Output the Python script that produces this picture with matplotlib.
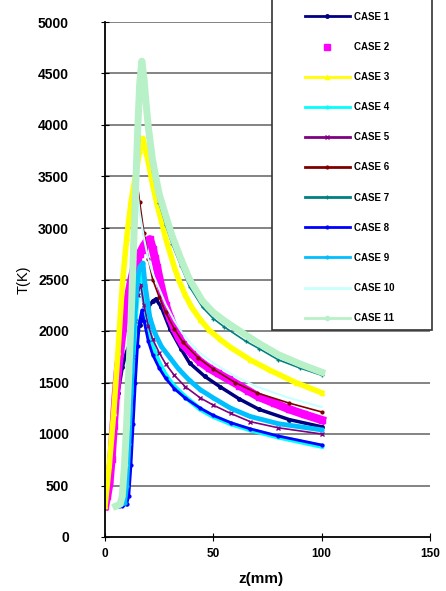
import matplotlib
matplotlib.use("Agg")
import matplotlib.pyplot as plt
from matplotlib.patches import Rectangle

plt.rcParams['font.family'] = ['Liberation Sans', 'DejaVu Sans']

# temperature profiles T(K) vs z(mm)
case1_z = [0, 2, 4, 6, 8, 10, 12, 14, 16, 18, 20, 22, 23.5, 26, 30, 35, 39, 46, 53, 62, 71, 85, 100]
case1_t = [300, 620, 1000, 1400, 1650, 1800, 1900, 1980, 2060, 2150, 2230, 2290, 2310, 2230, 2020, 1830, 1690, 1560, 1460, 1340, 1240, 1140, 1070]

case2_z = [0, 1, 2, 3, 4, 5, 6, 7, 8, 9, 10, 11, 12, 13, 14, 15, 16, 17, 18, 19, 20, 20.7, 22, 23, 24, 26, 28, 30, 32, 34, 36, 40, 44, 48, 52, 57, 62, 66, 71, 78, 85, 92, 100]
case2_t = [300, 400, 520, 760, 1080, 1380, 1620, 1800, 1980, 2120, 2250, 2370, 2480, 2570, 2650, 2700, 2750, 2790, 2830, 2860, 2880, 2890, 2800, 2710, 2620, 2420, 2250, 2130, 2030, 1940, 1870, 1780, 1700, 1640, 1590, 1530, 1470, 1420, 1360, 1300, 1240, 1190, 1136]

case3_z = [0, 2, 4, 6, 8, 10, 12, 14, 16, 17.5, 20, 22, 24, 26, 28, 30, 32, 34, 37, 40, 44, 48, 53, 58, 67, 76, 88, 100]
case3_t = [300, 700, 1200, 1800, 2450, 2900, 3250, 3500, 3750, 3870, 3640, 3420, 3230, 3070, 2900, 2760, 2620, 2500, 2350, 2230, 2110, 2010, 1920, 1840, 1720, 1620, 1500, 1400]

case4_z = [6, 9, 10, 11, 12, 13, 14, 15, 16, 17, 18, 20, 22, 25, 28, 32, 37, 44, 50, 58, 67, 80, 100]
case4_t = [300, 320, 450, 800, 1250, 1700, 2100, 2400, 2550, 2500, 2300, 2020, 1850, 1690, 1570, 1460, 1360, 1240, 1170, 1100, 1040, 970, 880]

case5_z = [6, 9, 10, 11, 12, 13, 14, 15, 16.5, 18, 20, 22, 25, 28, 32, 37, 44, 50, 58, 67, 80, 100]
case5_t = [300, 320, 480, 850, 1300, 1750, 2100, 2350, 2450, 2250, 2050, 1920, 1790, 1680, 1570, 1460, 1350, 1280, 1200, 1120, 1060, 1000]

case6_z = [5, 8, 9, 10, 11, 12, 13, 14.3, 16, 18, 20, 22, 25, 28, 32, 36, 43, 50, 60, 70, 85, 100]
case6_t = [300, 330, 520, 1000, 1700, 2400, 3050, 3530, 3250, 2950, 2700, 2500, 2330, 2180, 2020, 1890, 1740, 1630, 1500, 1400, 1300, 1214]

case7_z = [5, 7, 8, 9, 10, 11, 12, 13, 14, 15, 16, 16.5, 17, 18, 19, 20, 22, 25, 28, 31, 35, 39, 45, 50, 55, 65, 71, 80, 90, 100]
case7_t = [300, 310, 380, 650, 1050, 1550, 2050, 2650, 3250, 3850, 4350, 4580, 4500, 4300, 4080, 3880, 3550, 3240, 3030, 2840, 2630, 2430, 2230, 2120, 2040, 1900, 1830, 1720, 1640, 1570]

case8_z = [8, 10, 11, 12, 13, 14, 15, 16, 17, 18, 20, 22, 25, 28, 32, 37, 44, 50, 58, 67, 80, 100]
case8_t = [300, 320, 400, 700, 1100, 1500, 1850, 2100, 2200, 2100, 1900, 1770, 1640, 1540, 1440, 1350, 1250, 1180, 1110, 1050, 980, 893]

case9_z = [6, 9, 10, 11, 12, 13, 14, 15, 16, 17.5, 18.5, 20.7, 23, 26, 30, 34, 39, 44, 50, 58, 67, 80, 100]
case9_t = [300, 330, 500, 900, 1400, 1900, 2250, 2500, 2620, 2660, 2450, 2130, 1980, 1850, 1740, 1630, 1520, 1430, 1350, 1250, 1170, 1100, 1040]

case10_z = [5, 8, 9, 10, 11, 12, 13, 14, 15, 16, 18, 20, 22, 25, 28, 32, 36, 43, 50, 60, 70, 85, 100]
case10_t = [300, 330, 500, 900, 1400, 1950, 2500, 3000, 3350, 3150, 2900, 2700, 2560, 2410, 2260, 2100, 1970, 1800, 1690, 1560, 1460, 1350, 1262]

case11_z = [5, 7, 8, 9, 10, 11, 12, 13, 14, 15, 16, 17, 18, 19, 20, 22, 25, 28, 31, 35, 39, 45, 50, 55, 65, 71, 80, 90, 100]
case11_t = [300, 320, 400, 700, 1100, 1600, 2100, 2700, 3300, 3900, 4400, 4620, 4450, 4200, 3980, 3650, 3330, 3120, 2920, 2700, 2500, 2290, 2180, 2100, 1960, 1880, 1770, 1680, 1600]

x_ticks = [0, 50, 100, 150]
y_ticks = [0, 500, 1000, 1500, 2000, 2500, 3000, 3500, 4000, 4500, 5000]

fig = plt.figure(figsize=(4.46, 5.91), dpi=100)
ax = fig.add_axes([105 / 446, 1 - 537 / 591, (430 - 105) / 446, (537 - 22) / 591])

for yv in y_ticks[1:]:
    ax.axhline(yv, color='#7a7a7a', lw=1.3, zorder=0)

ax.plot(case1_z, case1_t, color='#000080', lw=2.5, marker='o', ms=2.5, label='CASE 1')
ax.plot(case2_z, case2_t, color='#ff00ff', lw=6, label='_nolegend_')
ax.plot(case2_z, case2_t, color='#ff00ff', ls='none', marker='s', ms=4.5, label='CASE 2')
ax.plot(case3_z, case3_t, color='#ffff00', lw=4, marker='^', ms=3, label='CASE 3')
ax.plot(case4_z, case4_t, color='#00ffff', lw=3.5, marker='o', ms=2, label='CASE 4')
ax.plot(case5_z, case5_t, color='#800080', lw=1.2, marker='x', ms=2.5, label='CASE 5')
ax.plot(case6_z, case6_t, color='#800000', lw=1.2, marker='o', ms=2, label='CASE 6')
ax.plot(case7_z, case7_t, color='#008080', lw=1.2, marker='+', ms=3, label='CASE 7')
ax.plot(case8_z, case8_t, color='#0000ff', lw=2, marker='o', ms=2, label='CASE 8')
ax.plot(case9_z, case9_t, color='#00bfff', lw=3.5, marker='o', ms=2, label='CASE 9')
ax.plot(case10_z, case10_t, color='#c8ffff', lw=1.5, label='CASE 10')
ax.plot(case11_z, case11_t, color='#b8f0c8', lw=5, marker='o', ms=3, label='CASE 11')

ax.set_xlim(0, 150)
ax.set_ylim(0, 5000)
ax.set_xticks(x_ticks)
ax.set_yticks(y_ticks)
ax.tick_params(axis='y', direction='inout', length=6, labelsize=10, pad=23)
ax.tick_params(axis='x', direction='inout', length=6, labelsize=8.5, pad=5)
for lab in ax.get_yticklabels():
    lab.set_fontweight('bold')
for lab in ax.get_xticklabels():
    lab.set_fontweight('bold')
ax.spines['top'].set_visible(False)
ax.spines['right'].set_visible(False)
ax.spines['left'].set_linewidth(1.3)
ax.spines['bottom'].set_linewidth(1.3)
ax.set_ylabel('T(K)', fontsize=10.5, labelpad=5)
ax.set_xlabel('z(mm)', fontsize=11, fontweight='bold')
ax.xaxis.set_label_coords(0.48, -0.068)

# legend box, partly above the figure edge like the source
fig.patches.append(Rectangle((272 / 446, 1 - 330 / 591), (432 - 272) / 446, 340 / 591,
                             transform=fig.transFigure, facecolor='white',
                             edgecolor='#333333', lw=1.2, zorder=5))
leg = fig.legend(loc='upper left', bbox_to_anchor=(300 / 446, 1 - 7 / 591),
                 frameon=False, prop={'size': 7, 'weight': 'bold'},
                 handlelength=4.6, handletextpad=0.5, labelspacing=2.07,
                 borderpad=0)
for h in leg.get_lines():
    h.set_linewidth(2)
leg.set_zorder(6)

fig.savefig('out.png', dpi=100)
